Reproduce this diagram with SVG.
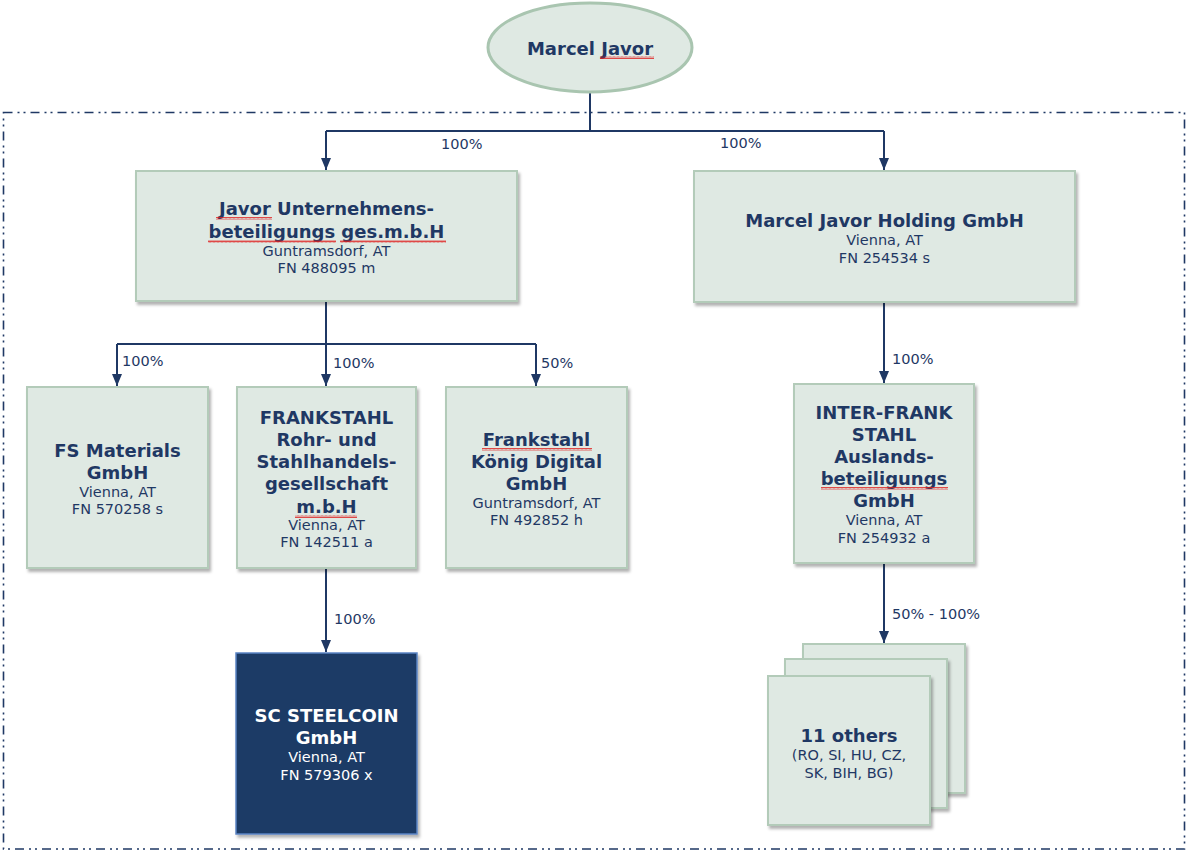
<svg xmlns="http://www.w3.org/2000/svg" width="1186" height="855" viewBox="0 0 1186 855">
<style>
.box{fill:#dfe9e3;stroke:#b3cbb9;stroke-width:2}
.dark{fill:#1b3a66;stroke:#5b84c4;stroke-width:1.5}
.t{font-family:"DejaVu Sans",Verdana,sans-serif;font-size:18px;font-weight:bold;fill:#1f3864;text-anchor:middle}
.s{font-family:"DejaVu Sans",Verdana,sans-serif;font-size:14.5px;fill:#1f3864;text-anchor:middle}
.w{fill:#ffffff}
.lbl{font-family:"DejaVu Sans",Verdana,sans-serif;font-size:14.5px;fill:#1f3864}
.ln{fill:none;stroke:#1f3864;stroke-width:2}
.sq{fill:url(#wave)}
</style>
<defs>
<filter id="sh" x="-10%" y="-10%" width="130%" height="130%">
<feDropShadow dx="2" dy="3" stdDeviation="1.5" flood-color="#000" flood-opacity="0.3"/>
</filter>
<marker id="arr" viewBox="0 0 12 10" refX="12" refY="5" markerWidth="12" markerHeight="10" markerUnits="userSpaceOnUse" orient="auto">
<path d="M0 0 L12 5 L0 10 Z" fill="#1f3864"/>
</marker>
<pattern id="wave" width="4" height="3" patternUnits="userSpaceOnUse">
<polyline points="0,2.5 1,0.5 2,2.5 3,0.5 4,2.5" fill="none" stroke="#e02020" stroke-width="0.8"/>
</pattern>
</defs>
<rect width="1186" height="855" fill="#ffffff"/>
<rect x="3.5" y="112.5" width="1181" height="736.5" fill="none" stroke="#1f3864" stroke-width="1.6" stroke-dasharray="9 5 2 4 2 5"/>

<g id="connectors">
<path class="ln" d="M590 92 V131"/>
<path class="ln" d="M326 131 H884"/>
<path class="ln" d="M326 131 V170" marker-end="url(#arr)"/>
<path class="ln" d="M884 131 V170" marker-end="url(#arr)"/>
<path class="ln" d="M326 302 V344"/>
<path class="ln" d="M117 344 H536"/>
<path class="ln" d="M117 344 V386" marker-end="url(#arr)"/>
<path class="ln" d="M326 344 V386" marker-end="url(#arr)"/>
<path class="ln" d="M536 344 V386" marker-end="url(#arr)"/>
<path class="ln" d="M884 302 V383" marker-end="url(#arr)"/>
<path class="ln" d="M884 563 V643" marker-end="url(#arr)"/>
<path class="ln" d="M326 568 V652" marker-end="url(#arr)"/>
<text class="lbl" x="441" y="149">100%</text>
<text class="lbl" x="720" y="148">100%</text>
<text class="lbl" x="122" y="366">100%</text>
<text class="lbl" x="333" y="368">100%</text>
<text class="lbl" x="541" y="368">50%</text>
<text class="lbl" x="892" y="364">100%</text>
<text class="lbl" x="892" y="619">50% - 100%</text>
<text class="lbl" x="334" y="624">100%</text>
</g>

<g id="marcel-javor">
<ellipse cx="590" cy="47.5" rx="102" ry="44.5" fill="#dfe9e3" stroke="#a9c5b0" stroke-width="3"/>
<text class="t" x="590" y="55">Marcel Javor</text>
<rect class="sq" x="600" y="56" width="54" height="3"/>
</g>

<g id="javor-unternehmens">
<rect class="box" x="136" y="171" width="381" height="130" filter="url(#sh)"/>
<text class="t" x="326.5" y="215">Javor Unternehmens-</text>
<text class="t" x="326.5" y="238">beteiligungs ges.m.b.H</text>
<text class="s" x="326.5" y="256">Guntramsdorf, AT</text>
<text class="s" x="326.5" y="273">FN 488095 m</text>
<rect class="sq" x="216" y="217" width="56" height="3"/>
<rect class="sq" x="208" y="240" width="128" height="3"/>
<rect class="sq" x="340" y="240" width="106" height="3"/>
</g>

<g id="marcel-javor-holding">
<rect class="box" x="694" y="171" width="381" height="131" filter="url(#sh)"/>
<text class="t" x="884.5" y="227">Marcel Javor Holding GmbH</text>
<text class="s" x="884.5" y="245">Vienna, AT</text>
<text class="s" x="884.5" y="263">FN 254534 s</text>
</g>

<g id="fs-materials">
<rect class="box" x="27" y="387" width="181" height="181" filter="url(#sh)"/>
<text class="t" x="117.5" y="457">FS Materials</text>
<text class="t" x="117.5" y="479">GmbH</text>
<text class="s" x="117.5" y="497">Vienna, AT</text>
<text class="s" x="117.5" y="514">FN 570258 s</text>
</g>

<g id="frankstahl-rohr">
<rect class="box" x="237" y="387" width="179" height="181" filter="url(#sh)"/>
<text class="t" x="326.5" y="424">FRANKSTAHL</text>
<text class="t" x="326.5" y="446">Rohr- und</text>
<text class="t" x="326.5" y="468">Stahlhandels-</text>
<text class="t" x="326.5" y="490">gesellschaft</text>
<text class="t" x="326.5" y="513">m.b.H</text>
<text class="s" x="326.5" y="530">Vienna, AT</text>
<text class="s" x="326.5" y="547">FN 142511 a</text>
<rect class="sq" x="295" y="515" width="62" height="3"/>
</g>

<g id="frankstahl-koenig">
<rect class="box" x="446" y="387" width="181" height="181" filter="url(#sh)"/>
<text class="t" x="536.5" y="446">Frankstahl</text>
<text class="t" x="536.5" y="468">König Digital</text>
<text class="t" x="536.5" y="490">GmbH</text>
<text class="s" x="536.5" y="508">Guntramsdorf, AT</text>
<text class="s" x="536.5" y="525">FN 492852 h</text>
<rect class="sq" x="482" y="448" width="110" height="3"/>
</g>

<g id="inter-frank-stahl">
<rect class="box" x="794" y="384" width="180" height="179" filter="url(#sh)"/>
<text class="t" x="884" y="419">INTER-FRANK</text>
<text class="t" x="884" y="441">STAHL</text>
<text class="t" x="884" y="463">Auslands-</text>
<text class="t" x="884" y="485">beteiligungs</text>
<text class="t" x="884" y="507">GmbH</text>
<text class="s" x="884" y="525">Vienna, AT</text>
<text class="s" x="884" y="543">FN 254932 a</text>
<rect class="sq" x="821" y="487" width="127" height="3"/>
</g>

<g id="sc-steelcoin">
<rect class="dark" x="236" y="653" width="181" height="181" filter="url(#sh)"/>
<text class="t w" x="326.5" y="722">SC STEELCOIN</text>
<text class="t w" x="326.5" y="744">GmbH</text>
<text class="s w" x="326.5" y="762">Vienna, AT</text>
<text class="s w" x="326.5" y="780">FN 579306 x</text>
</g>

<g id="others">
<rect class="box" x="803" y="644" width="162" height="149" filter="url(#sh)"/>
<rect class="box" x="785" y="659" width="162" height="149" filter="url(#sh)"/>
<rect class="box" x="768" y="676" width="162" height="149" filter="url(#sh)"/>
<text class="t" x="849" y="742">11 others</text>
<text class="s" x="849" y="760">(RO, SI, HU, CZ,</text>
<text class="s" x="849" y="778">SK, BIH, BG)</text>
</g>
</svg>
